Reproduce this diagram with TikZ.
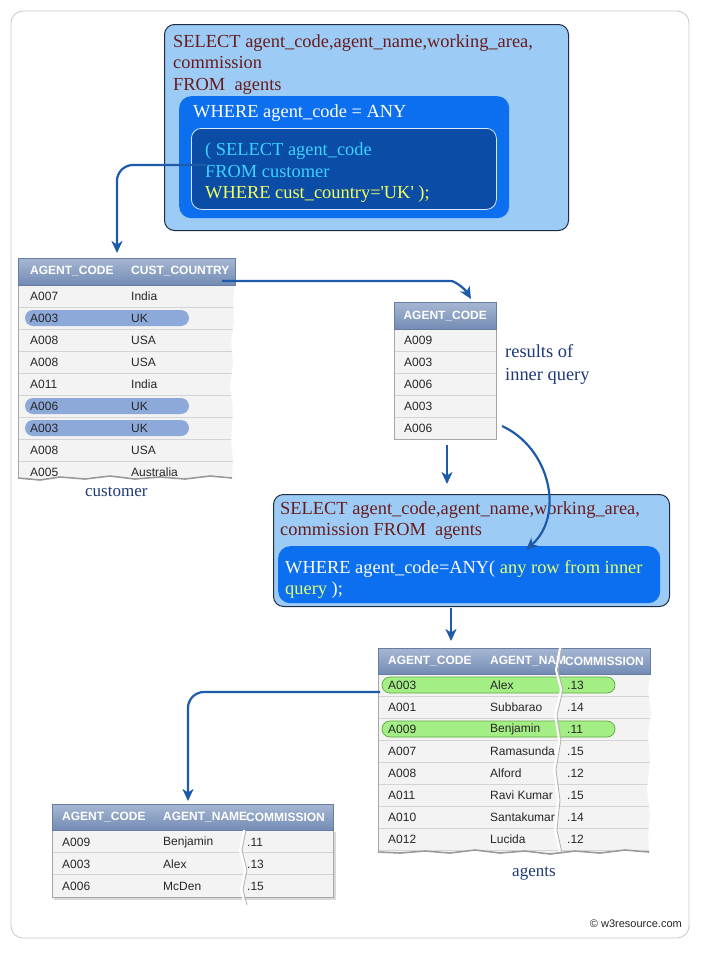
\documentclass[tikz,border=0pt]{standalone}
\usepackage{fontspec}
\setmainfont{Liberation Serif}
\newfontfamily\tabfont{Liberation Sans}
\usetikzlibrary{arrows.meta}
\definecolor{qlight}{HTML}{9CCBF6}
\definecolor{qborder}{HTML}{1E2C44}
\definecolor{qblue}{HTML}{0B6FEF}
\definecolor{qdark}{HTML}{0A4CA6}
\definecolor{qred}{HTML}{6A1C1C}
\definecolor{qcyan}{HTML}{3DD2FF}
\definecolor{qyellow}{HTML}{F2FF5C}
\definecolor{qlime}{HTML}{E2FF74}
\definecolor{arrowc}{HTML}{1D5BAA}
\definecolor{lblc}{HTML}{1E3A78}
\definecolor{hdrtop}{HTML}{A6B7D3}
\definecolor{hdrbot}{HTML}{738BB4}
\definecolor{rowfill}{HTML}{F3F3F3}
\definecolor{rowline}{HTML}{D4D4D4}
\definecolor{pillblue}{HTML}{8DA9DA}
\definecolor{pillgreen}{HTML}{A4EE86}
\definecolor{pillgreenb}{HTML}{5FA83E}
\newcommand\qf{\fontsize{18.4pt}{21.5pt}\selectfont}
\newcommand\tf{\tabfont\fontsize{12pt}{14pt}\selectfont}
\begin{document}
\begin{tikzpicture}[x=1pt,y=-1pt,
  qbox/.style={draw=qborder, fill=qlight, line width=1pt, rounded corners=10pt, anchor=north west, inner sep=0pt},
  bluebox/.style={fill=qblue, rounded corners=12pt, anchor=north west, inner sep=0pt},
  darkbox/.style={fill=qdark, draw=white!85!qblue, line width=0.8pt, rounded corners=10pt, anchor=north west, inner sep=0pt},
  qline/.style={anchor=base west, inner sep=0pt, font=\qf},
  lbl/.style={anchor=base west, inner sep=0pt, font=\qf, text=lblc},
  hdr/.style={top color=hdrtop, bottom color=hdrbot, draw=hdrbot!90!black, line width=0.4pt, anchor=north west, inner sep=0pt},
  cell/.style={anchor=west, inner sep=0pt, font=\tf, text=black!85},
  hcell/.style={anchor=west, inner sep=0pt, font=\tf\bfseries, text=white},
  flow/.style={draw=arrowc, line width=2.2pt, rounded corners=16pt, -{Stealth[length=12pt,width=11pt,inset=3.5pt]}},
  tear/.style={draw=white, line width=2pt},
  tearsh/.style={draw=black!30, line width=0.8pt},
  shadowl/.style={draw=black!40, line width=1.6pt}
]
\useasboundingbox (0,0) rectangle (701,953);
\fill[white] (0,0) rectangle (701,953);
\draw[black!22, line width=0.8pt, rounded corners=12pt] (11,11) rectangle (689,938);

% ---------- top query box ----------
\node[qbox, minimum width=404, minimum height=206] (q1) at (164,24) {};
\node[bluebox, minimum width=330, minimum height=122] (q1b) at (179,96) {};
\node[darkbox, minimum width=305, minimum height=81] (q1c) at (191,128) {};
\node[qline, text=qred] (t1a) at (173,47) {SELECT agent\_code,agent\_name,working\_area,};
\node[qline, text=qred] (t1b) at (173,68) {commission};
\node[qline, text=qred] (t1c) at (173,90) {FROM\ \ agents};
\node[qline, text=white] (t1d) at (193,117) {WHERE agent\_code = ANY};
\node[qline, text=qcyan] (t1e) at (205,155) {( SELECT agent\_code};
\node[qline, text=qcyan] (t1f) at (205,177) {FROM customer};
\node[qline, text=qyellow] (t1g) at (205,198) {WHERE cust\_country=\textquotesingle UK\textquotesingle\ );};

% ---------- customer table ----------
\begin{scope}
\clip (18,250) -- (235,250) -- (235,285) -- (233,300) -- (234,322) -- (231,342) -- (233,362) -- (230,386) -- (233,410) -- (231,440) -- (233,460) -- (232,477)
  -- (210,475) -- (185,478) -- (160,476) -- (135,478) -- (110,475) -- (85,478) -- (60,476) -- (40,479) -- (18,477) -- cycle;
\fill[rowfill] (18,285) rectangle (236,482);
\foreach \k in {1,...,8} {\draw[rowline] (18,285+22*\k) -- (236,285+22*\k);}
\foreach \i/\a/\b/\p in {0/A007/India/0,1/A003/UK/1,2/A008/USA/0,3/A008/USA/0,4/A011/India/0,5/A006/UK/1,6/A003/UK/1,7/A008/USA/0,8/A005/Australia/0} {
  \pgfmathsetmacro\yy{296+22*\i}
  \ifnum\p=1 \fill[pillblue, rounded corners=8pt] (25,\yy-8) rectangle (189,\yy+8); \fi
  \node[cell] (cc\i) at (30,\yy) {\a};
  \node[cell] (cn\i) at (131,\yy) {\b};
}
\end{scope}
\draw[black!35, line width=0.6pt] (18,285) -- (18,477);
\node[hdr, minimum width=217, minimum height=27] (custhdr) at (18,258) {};
\node[hcell] (ch1) at (30,271.5) {AGENT\_CODE};
\node[hcell] (ch2) at (131,271.5) {CUST\_COUNTRY};
\draw[shadowl] (18,478) -- (40,480) -- (60,477) -- (85,479) -- (110,476) -- (135,479) -- (160,477) -- (185,479) -- (210,476) -- (232,478);
\node[lbl, font=\fontsize{17pt}{20pt}\selectfont] (custlbl) at (85,496) {customer};

% ---------- results of inner query ----------
\fill[rowfill] (394,329) rectangle (496,439);
\foreach \k in {1,...,4} {\draw[rowline] (394,329+22*\k) -- (496,329+22*\k);}
\draw[black!35, line width=0.6pt] (394,329) rectangle (496,439);
\node[hdr, minimum width=102, minimum height=27] (reshdr) at (394,302) {};
\node[hcell, anchor=center] (rh1) at (reshdr.center) {AGENT\_CODE};
\foreach \i/\a in {0/A009,1/A003,2/A006,3/A003,4/A006} {
  \node[cell] (rc\i) at (404,340+22*\i) {\a};
}
\node[lbl] (reslbl1) at (505,357) {results of};
\node[lbl] (reslbl2) at (505,380) {inner query};

% ---------- middle query box ----------
\node[qbox, minimum width=396, minimum height=112] (q2) at (273,494) {};
\node[bluebox, minimum width=382, minimum height=57] (q2b) at (278,546) {};
\node[qline, text=qred] (t2a) at (280,514) {SELECT agent\_code,agent\_name,working\_area,};
\node[qline, text=qred] (t2b) at (280,535) {commission FROM\ \ agents};
\node[qline, text=white] (t2c) at (285,573) {WHERE agent\_code=ANY( \textcolor{qlime}{any row from inner}};
\node[qline, text=white] (t2d) at (285,594) {\textcolor{qlime}{query} );};

% ---------- agents table ----------
\begin{scope}
\clip (378,640) -- (650,640) -- (650,674) -- (648,690) -- (651,712) -- (648,735) -- (650,760) -- (647,790) -- (650,815) -- (648,835) -- (649,851)
  -- (625,849) -- (600,852) -- (575,850) -- (550,853) -- (525,850) -- (500,852) -- (475,849) -- (450,852) -- (425,850) -- (400,852) -- (378,851) -- cycle;
\fill[rowfill] (378,674) rectangle (652,856);
\foreach \k in {1,...,8} {\draw[rowline] (378,674+22*\k) -- (652,674+22*\k);}
\foreach \i/\a/\b/\c/\p in {0/A003/Alex/.13/1,1/A001/Subbarao/.14/0,2/A009/Benjamin/.11/1,3/A007/Ramasunda/.15/0,4/A008/Alford/.12/0,5/A011/Ravi Kumar/.15/0,6/A010/Santakumar/.14/0,7/A012/Lucida/.12/0} {
  \pgfmathsetmacro\yy{685+22*\i}
  \ifnum\p=1 \filldraw[fill=pillgreen, draw=pillgreenb, line width=0.7pt, rounded corners=8pt] (382,\yy-8) rectangle (615,\yy+8); \fi
  \node[cell] (ac\i) at (388,\yy) {\a};
  \node[cell] (an\i) at (490,\yy) {\b};
  \node[cell] (am\i) at (567,\yy) {\c};
}
\end{scope}
\draw[black!35, line width=0.6pt] (378,674) -- (378,851);
\node[hdr, minimum width=272, minimum height=26] (aghdr) at (378,648) {};
\node[hcell] (ah1) at (388,661) {AGENT\_CODE};
\node[hcell] (ah2) at (490,661) {AGENT\_NAM};
\node[hcell] (ah3) at (565,661) {COMMISSION};
\draw[tearsh] (562,648) -- (558,670) -- (563,690) -- (557,715) -- (561,740) -- (556,770) -- (560,800) -- (557,830) -- (562,853);
\draw[tear] (560,648) -- (556,670) -- (561,690) -- (555,715) -- (559,740) -- (554,770) -- (558,800) -- (555,830) -- (560,853);
\draw[shadowl] (378,852) -- (400,853) -- (425,851) -- (450,853) -- (475,850) -- (500,853) -- (525,851) -- (550,854) -- (575,851) -- (600,853) -- (625,850) -- (649,852);
\node[lbl, font=\fontsize{17pt}{20pt}\selectfont] (aglbl) at (512,876) {agents};

% ---------- result table ----------
\fill[rowfill] (52,830) rectangle (333,897);
\foreach \k in {1,2} {\draw[rowline] (52,830+22*\k) -- (333,830+22*\k);}
\draw[black!35, line width=0.6pt] (52,830) rectangle (333,897);
\draw[black!15, line width=2pt] (54,899) -- (335,899) -- (335,832);
\node[hdr, minimum width=281, minimum height=26] (rthdr) at (52,804) {};
\node[hcell] (rt1) at (62,817) {AGENT\_CODE};
\node[hcell] (rt2) at (163,817) {AGENT\_NAME};
\node[hcell] (rt3) at (246,817) {COMMISSION};
\foreach \i/\a/\b/\c in {0/A009/Benjamin/.11,1/A003/Alex/.13,2/A006/McDen/.15} {
  \node[cell] (rc\i a) at (62,842+22*\i) {\a};
  \node[cell] (rc\i b) at (163,842+22*\i) {\b};
  \node[cell] (rc\i c) at (247,842+22*\i) {\c};
}
\draw[tearsh] (246,830) -- (242,850) -- (247,870) -- (243,890) -- (247,905);
\draw[tear] (244,830) -- (240,850) -- (245,870) -- (241,890) -- (245,905);

% ---------- connectors ----------
\coordinate (a1s) at (208,165);
\coordinate (a1e) at (117,253);
\draw[flow] (a1s) -| (a1e);
\coordinate (a2s) at (222,281);
\coordinate (a2m) at (435,281);
\coordinate (a2e) at (471,299);
\draw[flow] (a2s) -- (a2m) .. controls (455,281) and (465,289) .. (a2e);
\draw[flow] (447,445) -- (447,484);
\coordinate (a4s) at (502,426);
\coordinate (a4e) at (526,550);
\draw[flow] (a4s) .. controls (550,448) and (565,515) .. (a4e);
\draw[flow] (451,608) -- (451,641);
\coordinate (a6s) at (380,692);
\coordinate (a6e) at (188,801);
\draw[flow] (a6s) -| (a6e);

\node[anchor=east, inner sep=0pt, font=\tabfont\fontsize{11pt}{13pt}\selectfont, text=black!85] (copy) at (682,924) {\textcopyright\ w3resource.com};
\end{tikzpicture}
\end{document}
